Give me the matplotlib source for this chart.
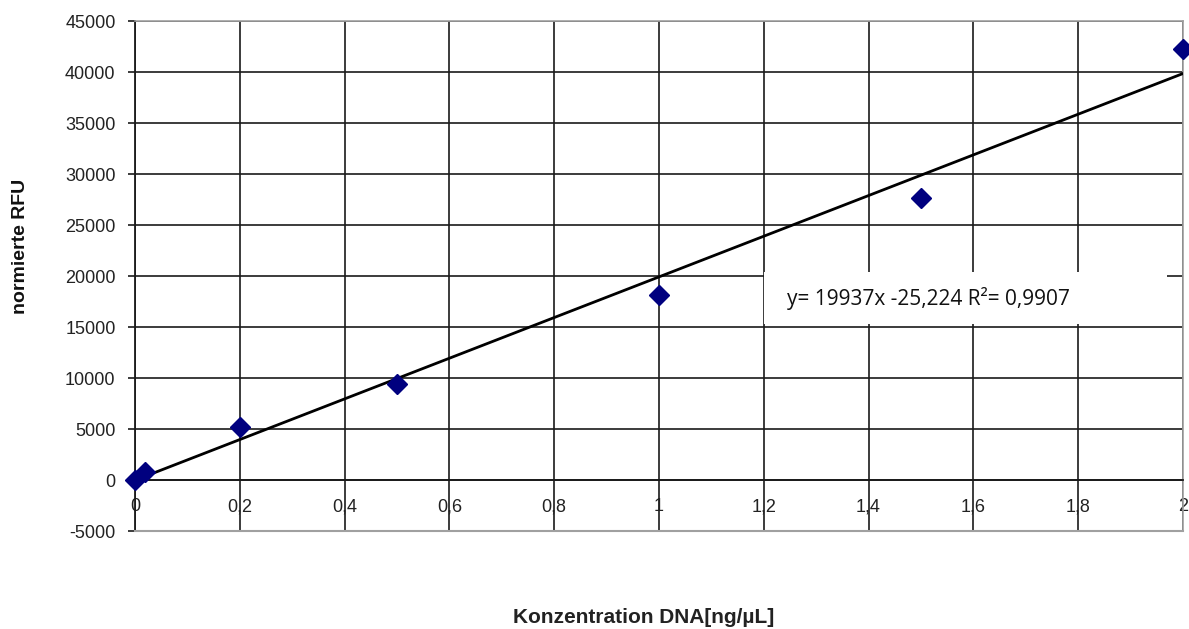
import numpy as np
import matplotlib
matplotlib.use('Agg')
from matplotlib import pyplot as plt
from matplotlib.patches import Rectangle

plt.rcParams['font.family'] = ['Liberation Sans', 'DejaVu Sans']

# Messwerte
konz = [0, 0.02, 0.2, 0.5, 1.0, 1.5, 2.0]  # ng/uL
rfu = [0, 800, 5200, 9400, 18150, 27600, 42250]  # normierte RFU

# Regressionsgerade (aus dem Diagramm)
slope = 19937
intercept = -25.224
r2 = 0.9907

x_ticks = [0, 0.2, 0.4, 0.6, 0.8, 1.0, 1.2, 1.4, 1.6, 1.8, 2.0]
x_ticklabels = ['0', '0,2', '0,4', '0,6', '0,8', '1', '1,2', '1,4', '1,6', '1,8', '2']
y_ticks = [-5000, 0, 5000, 10000, 15000, 20000, 25000, 30000, 35000, 40000, 45000]

fig = plt.figure(figsize=(11.89, 6.29), dpi=100)
ax = fig.add_axes([0.1135, 0.1558, 0.8814, 0.8108])

ax.set_xlim(0, 2)
ax.set_ylim(-5000, 45000)

# Gitter
ax.set_xticks(x_ticks)
ax.set_xticklabels(x_ticklabels)
ax.set_yticks(y_ticks)
ax.set_yticklabels([str(v) for v in y_ticks])
ax.grid(True, color='#1a1a1a', linewidth=1.2)
ax.set_axisbelow(True)

# Rahmen
for s in ['top', 'right']:
    ax.spines[s].set_color('#a0a0a0')
    ax.spines[s].set_linewidth(1.2)
ax.spines['left'].set_color('#1a1a1a')
ax.spines['left'].set_linewidth(1.3)
ax.spines['bottom'].set_position(('data', 0))
ax.spines['bottom'].set_color('#1a1a1a')
ax.spines['bottom'].set_linewidth(1.3)
ax.axhline(-5000, color='#a0a0a0', linewidth=1.5, clip_on=False, zorder=3)

ax.tick_params(axis='x', length=0, pad=13, labelsize=13, colors='#222222')
ax.tick_params(axis='y', length=5, width=1.2, pad=9, labelsize=13, colors='#222222')
ax.tick_params(axis='y', color='#1a1a1a')

# Regressionsgerade
xf = np.array([0, 2])
ax.plot(xf, slope * xf + intercept, color='black', linewidth=2, zorder=4)

# Punkte
ax.plot(konz, rfu, linestyle='none', marker='D', markersize=10.5,
        color='#00007f', zorder=5, clip_on=False)

# Textfeld mit Gleichung
ax.add_patch(Rectangle((1.2, 15300), 0.77, 5100, facecolor='white',
                       edgecolor='none', zorder=3))
ax.text(1.245, 17800, 'y= %dx -%s R²= %s' % (slope, str(-intercept).replace('.', ','),
                                              str(r2).replace('.', ',')),
        fontsize=15, family=['Open Sans', 'DejaVu Sans'], va='center', ha='left',
        color='#111111', zorder=6)

fig.text(0.017, 0.608, 'normierte RFU', rotation=90, fontsize=14, fontweight='bold',
         va='center', ha='center', color='#111111')
fig.text(0.541, 0.019, 'Konzentration DNA[ng/µL]', fontsize=15, fontweight='bold',
         va='center', ha='center', color='#222222')

fig.savefig('out.png', dpi=100)
